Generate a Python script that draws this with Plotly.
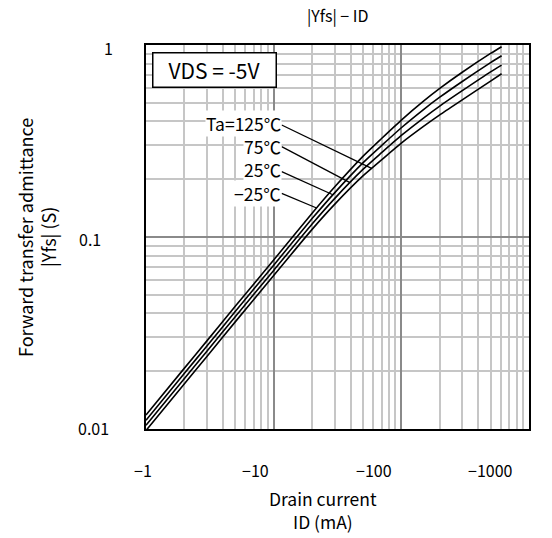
import plotly.graph_objects as go
import math

# ---------------- data ----------------
drain_current_mA = [1, 2, 3, 5, 10, 20, 30, 50, 70, 100, 150, 200, 300, 500, 610]
yfs_m25 = [0.01183, 0.02075, 0.02877, 0.04355, 0.07586, 0.1330, 0.1820, 0.2630, 0.3258, 0.4064, 0.5117, 0.5943, 0.7211, 0.9036, 0.9795]
yfs_25 = [0.01112, 0.01950, 0.02704, 0.04093, 0.07129, 0.1247, 0.1698, 0.2432, 0.2992, 0.3707, 0.4624, 0.5346, 0.6457, 0.8091, 0.8790]
yfs_75 = [0.01045, 0.01832, 0.02541, 0.03846, 0.06699, 0.1169, 0.1585, 0.2249, 0.2748, 0.3381, 0.4178, 0.4808, 0.5781, 0.7244, 0.7852]
yfs_125 = [0.00982, 0.01722, 0.02388, 0.03614, 0.06295, 0.1096, 0.1479, 0.2080, 0.2523, 0.3083, 0.3776, 0.4325, 0.5176, 0.6486, 0.7080]

curve_labels = ["Ta=125\u2103", "75\u2103", "25\u2103", "\u221225\u2103"]
label_anchor_id = 11.55
label_y = [0.391, 0.295, 0.2234, 0.169]
leader_start_y = [0.383, 0.2954, 0.2188, 0.1689]
leader_end_id = [58.5, 39.6, 29.1, 21.7]
leader_end_y = [0.2275, 0.1919, 0.166, 0.1416]

x_major = [1, 10, 100, 1000]
x_tick_text = ["\u22121", "\u221210", "\u2212100", "\u22121000"]
y_major = [0.01, 0.1, 1]
y_tick_text = ["0.01", "0.1", "1"]

x_minor = [m * d for d in (1, 10, 100) for m in range(2, 10)]
y_minor = [m * d for d in (0.01, 0.1) for m in range(2, 10)]

# ---------------- figure ----------------
FONT = "Noto Sans CJK JP"
fig = go.Figure()

for ys in (yfs_m25, yfs_25, yfs_75, yfs_125):
    fig.add_trace(go.Scatter(x=drain_current_mA, y=ys, mode="lines",
                             line=dict(color="black", width=1.6, shape="spline", smoothing=0.6),
                             showlegend=False, hoverinfo="skip"))

for i in range(4):
    fig.add_trace(go.Scatter(x=[label_anchor_id, leader_end_id[i]],
                             y=[leader_start_y[i], leader_end_y[i]],
                             mode="lines", line=dict(color="black", width=1.3),
                             showlegend=False, hoverinfo="skip"))

annotations = []
for i, t in enumerate(curve_labels):
    annotations.append(dict(x=math.log10(label_anchor_id), y=math.log10(label_y[i]),
                            xref="x", yref="y", text=t, showarrow=False,
                            xanchor="right", yanchor="middle", bgcolor="white",
                            borderpad=0, font=dict(family=FONT, size=17.5, color="black")))

# VDS box
annotations.append(dict(x=0.180, y=0.935, xref="paper", yref="paper",
                        text="VDS = -5V", showarrow=False, xanchor="center", yanchor="middle",
                        bgcolor="white", bordercolor="black", borderwidth=1.5,
                        width=118, height=29, borderpad=2,
                        font=dict(family=FONT, size=21, color="black")))

# x tick labels
x_shift = [-3, -18, -27, -39]
for v, t, s in zip(x_major, x_tick_text, x_shift):
    annotations.append(dict(x=math.log10(v), y=-41 / 384, xref="x", yref="paper",
                            text=t, showarrow=False, xanchor="center", yanchor="middle",
                            xshift=s, font=dict(family=FONT, size=16, color="black")))

# y tick labels
y_xshift = [-53, -56, -37.5]
y_yshift = [1, -2, -2.5]
for v, t, sx, sy in zip(y_major, y_tick_text, y_xshift, y_yshift):
    annotations.append(dict(x=0, y=math.log10(v), xref="paper", yref="y",
                            text=t, showarrow=False, xanchor="center", yanchor="middle",
                            xshift=sx, yshift=sy, font=dict(family=FONT, size=16, color="black")))

# axis titles
annotations.append(dict(x=(323 - 146) / 383, y=-(498 - 429) / 384, xref="paper", yref="paper",
                        text="Drain current", showarrow=False,
                        xanchor="center", yanchor="middle",
                        font=dict(family=FONT, size=17.5, color="black")))
annotations.append(dict(x=(323 - 146) / 383, y=-(521 - 429) / 384, xref="paper", yref="paper",
                        text="ID (mA)", showarrow=False,
                        xanchor="center", yanchor="middle",
                        font=dict(family=FONT, size=17.5, color="black")))
annotations.append(dict(x=-(146 - 25) / 383, y=0.5, xref="paper", yref="paper",
                        text="Forward transfer admittance", showarrow=False,
                        textangle=-90, xanchor="center", yanchor="middle",
                        font=dict(family=FONT, size=18, color="black")))
annotations.append(dict(x=-(146 - 48) / 383, y=0.5, xref="paper", yref="paper",
                        text="|Yfs| (S)", showarrow=False,
                        textangle=-90, xanchor="center", yanchor="middle",
                        font=dict(family=FONT, size=18, color="black")))
# title
annotations.append(dict(x=0.5, y=(429 - 15) / 384, xref="paper", yref="paper",
                        text="|Yfs| \u2212 ID", showarrow=False,
                        xanchor="center", yanchor="middle",
                        font=dict(family=FONT, size=16, color="black")))

axis_common = dict(type="log", showticklabels=False, ticks="",
                   showline=True, mirror=True, linecolor="black", linewidth=2,
                   showgrid=True, gridcolor="#8a8a8a", gridwidth=1.5, zeroline=False)

fig.update_layout(
    width=552, height=538,
    margin=dict(l=146, r=23, t=45, b=109),
    paper_bgcolor="white", plot_bgcolor="white",
    xaxis=dict(range=[0, 3], tickmode="array", tickvals=x_major,
               minor=dict(tickmode="array", tickvals=x_minor, showgrid=True,
                          gridcolor="#c6c6c6", gridwidth=1.5, ticks=""),
               **axis_common),
    yaxis=dict(range=[-2, 0], tickmode="array", tickvals=y_major,
               minor=dict(tickmode="array", tickvals=y_minor, showgrid=True,
                          gridcolor="#c6c6c6", gridwidth=1.5, ticks=""),
               **axis_common),
    annotations=annotations,
    showlegend=False,
)

fig.write_html("out.html")
